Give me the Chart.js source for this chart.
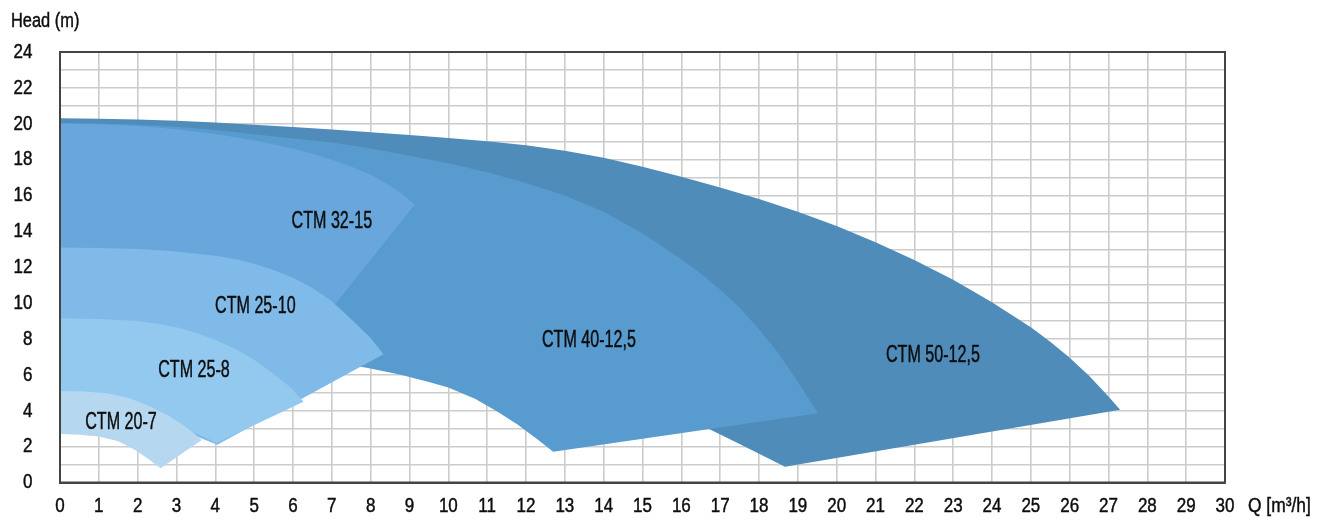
<!DOCTYPE html>
<html><head><meta charset="utf-8">
<script src="https://cdn.jsdelivr.net/npm/chart.js@4.4.1/dist/chart.umd.min.js"></script>
<style>html,body{margin:0;padding:0;background:#fff}#wrap{width:1332px;height:521px;position:relative}</style>
</head><body><div id="wrap"><canvas id="c"></canvas></div>
<script>
// Pump models (front to back)
const models = ['CTM 20-7','CTM 25-8','CTM 25-10','CTM 32-15','CTM 40-12,5','CTM 50-12,5'];
const colors = ['#B5D8F0','#94C9EF','#80BAE8','#68A6DC','#589BCF','#508CBA'];

// Upper (max speed) curves  [Q m3/h, H m]
const top20_7  = [[0,5.1],[0.6,5.07],[1.2,4.97],[1.8,4.7],[2.3,4.25],[2.8,3.72],[3.2,3.15],[3.45,2.75],[3.65,2.37]];
const top25_8  = [[0,9.15],[1,9.12],[2,9.0],[2.5,8.85],[3,8.65],[3.5,8.35],[4,7.95],[4.5,7.45],[5,6.85],[5.5,6.05],[5.8,5.55],[6.0,5.15],[6.27,4.5]];
const top25_10 = [[0,13.1],[1,13.08],[2,13.02],[3,12.88],[4,12.64],[4.6,12.42],[5,12.2],[5.5,11.85],[6,11.42],[6.5,10.85],[7,10.1],[7.5,9.1],[8,8.05],[8.33,7.15]];
const top32_15 = [[0,20.0],[1,19.97],[2,19.88],[3,19.7],[4,19.43],[5,19.08],[6,18.62],[6.5,18.33],[7,18.0],[7.5,17.62],[8,17.15],[8.5,16.55],[8.8,16.1],[9.14,15.5]];
const top40    = [[0,20.05],[1,20.02],[2,19.95],[3,19.83],[4,19.65],[5,19.42],[6,19.18],[7,18.95],[8,18.62],[9,18.22],[10,17.8],[11,17.3],[12,16.7],[13,16.0],[14,15.1],[15,13.9],[16,12.45],[16.5,11.65],[17,10.75],[17.5,9.75],[18,8.55],[18.5,7.2],[19,5.6],[19.52,3.86]];
const top50    = [[0,20.3],[1,20.28],[2,20.24],[3,20.17],[4,20.07],[5,19.95],[6,19.82],[7,19.68],[8,19.53],[9,19.37],[10,19.2],[11,19.03],[12,18.8],[13,18.5],[14,18.1],[15,17.6],[16,17.05],[17,16.45],[18,15.8],[19,15.1],[20,14.3],[21,13.4],[22,12.4],[23,11.3],[24,10.05],[25,8.65],[25.5,7.85],[26,6.95],[26.5,5.95],[27,4.8],[27.3,4.05]];

// Lower (min speed) curves  [Q m3/h, H m]
const bot20_7  = [[0,2.7],[0.5,2.66],[1.0,2.56],[1.5,2.3],[1.9,1.85],[2.25,1.35],[2.59,0.79]];
const bot25_8  = [[0,4.4],[1.5,4.2],[2.5,3.7],[3.1,3.1],[3.6,2.65],[4.03,2.2]];
const bot25_10 = [[0,4.0],[1.5,3.8],[2.5,3.4],[3.1,2.95],[3.6,2.5],[4.05,2.1]];
const bot32_15 = [[0,9.0],[3,8.7],[5,7.9],[6.0,7.0]];
const bot40    = [[0,7.6],[2,7.55],[4,7.35],[5.5,7.1],[7,6.7],[7.9,6.4],[8.8,6.0],[9.5,5.6],[10,5.3],[10.7,4.65],[11.3,3.9],[11.8,3.2],[12.3,2.4],[12.7,1.72]];
const bot50    = [[0,9.2],[4,9.0],[8,8.3],[10,7.6],[12,6.6],[13,6.0],[14,5.3],[15,4.5],[16,3.7],[16.74,2.95],[17.5,2.15],[18.67,0.88]];

const tops = [top20_7, top25_8, top25_10, top32_15, top40, top50];
const bots = [bot20_7, bot25_8, bot25_10, bot32_15, bot40, bot50];

// Label anchor positions (data units)
const labelQ = [1.57, 3.45, 5.03, 7.0, 13.62, 22.48];
const labelH = [3.43, 6.35, 9.92, 14.62, 7.99, 7.2];

// Axes
const qMax = 30, hMax = 24;
const xTitle = 'Q [m³/h]';
const yTitle = 'Head (m)';

const FONT = '"Liberation Sans", Arial, sans-serif';

function outline(top, bot) {
  return top.concat(bot.slice().reverse()).map(([x, y]) => ({x, y}));
}

const datasets = models.map((m, i) => ({
  label: m,
  data: outline(tops[i], bots[i]),
  backgroundColor: colors[i],
  borderWidth: 0,
  borderColor: colors[i],
  pointRadius: 0,
  tension: 0,
  fill: 'shape'
}));

function condensedText(ctx, text, x, y, sx, align) {
  ctx.save();
  ctx.translate(x, y);
  ctx.scale(sx, 1);
  ctx.textAlign = align;
  ctx.fillText(text, 0, 0);
  ctx.strokeText(text, 0, 0);
  ctx.restore();
}

const decor = {
  id: 'decor',
  afterDatasetsDraw(chart) {
    const {ctx, chartArea: a, scales: {x, y}} = chart;
    ctx.save();
    ctx.strokeStyle = '#444';
    ctx.lineWidth = 2;
    ctx.strokeRect(a.left, a.top, a.right - a.left, a.bottom - a.top);
    ctx.fillStyle = '#0d0d0d';
    ctx.strokeStyle = '#0d0d0d';
    ctx.lineWidth = 0.45;
    ctx.textBaseline = 'alphabetic';
    // curve labels
    ctx.font = '23px ' + FONT;
    models.forEach((m, i) => condensedText(ctx, m, x.getPixelForValue(labelQ[i]), y.getPixelForValue(labelH[i]) + 8.2, 0.7, 'center'));
    // tick labels
    ctx.font = '20px ' + FONT;
    x.ticks.forEach(t => condensedText(ctx, String(t.value), x.getPixelForValue(t.value), a.bottom + 29.5, 0.85, 'center'));
    y.ticks.forEach(t => { if (t.value % 2 === 0) condensedText(ctx, String(t.value), a.left - 27.5, y.getPixelForValue(t.value) + 5.8, 0.85, 'right'); });
    // axis titles
    condensedText(ctx, yTitle, 11, 27, 0.82, 'left');
    condensedText(ctx, xTitle, a.right + 23, 512, 0.87, 'left');
    ctx.restore();
  }
};

new Chart(document.getElementById('c'), {
  type: 'line',
  data: {datasets},
  options: {
    responsive: true,
    maintainAspectRatio: false,
    animation: false,
    layout: {padding: {top: 52, right: 107, left: 0, bottom: 0}},
    plugins: {legend: {display: false}, tooltip: {enabled: false}},
    scales: {
      x: {
        type: 'linear', min: 0, max: qMax,
        afterFit(s) { s.height = 38.5; },
        ticks: {stepSize: 1, display: false, autoSkip: false},
        grid: {color: '#cccccc', lineWidth: 1.6, drawTicks: false},
        border: {color: '#444', width: 2}
      },
      y: {
        type: 'linear', min: 0, max: hMax,
        afterFit(s) { s.width = 60; },
        ticks: {stepSize: 1, display: false, autoSkip: false},
        grid: {color: '#cccccc', lineWidth: 1.6, drawTicks: false},
        border: {color: '#444', width: 2}
      }
    }
  },
  plugins: [decor]
});
</script>
</body></html>
